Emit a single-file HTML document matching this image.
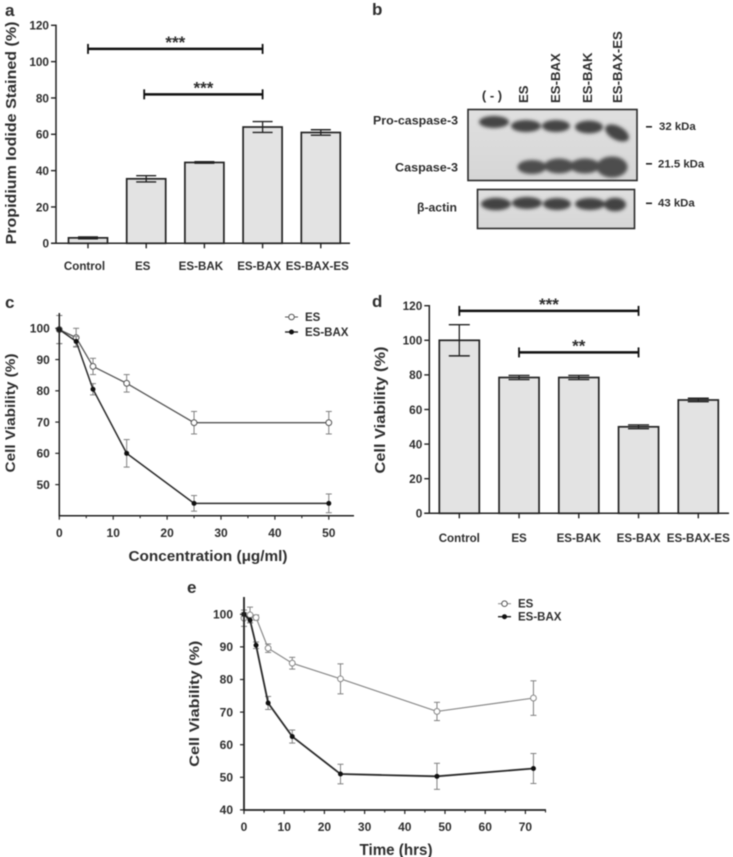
<!DOCTYPE html>
<html lang="en">
<head>
<meta charset="utf-8">
<title>Cell viability figure</title>
<style>
html,body{margin:0;padding:0;background:#fff;width:733px;height:857px;overflow:hidden}
svg{display:block}
text{font-family:"Liberation Sans",Arial,sans-serif;font-weight:bold;fill:#2e2e2e}
#figure{filter:blur(0.45px)}
</style>
</head>
<body>
<svg id="root" width="733" height="857" viewBox="0 0 733 857" xmlns="http://www.w3.org/2000/svg">
<defs>
<filter id="bandBlur" x="-30%" y="-50%" width="160%" height="200%"><feGaussianBlur stdDeviation="1.9"/></filter>
<linearGradient id="blotBg" x1="0" y1="0" x2="0" y2="1"><stop offset="0" stop-color="#e0e0e0"/><stop offset="1" stop-color="#d6d6d6"/></linearGradient>
</defs>
<g id="figure">
<g>
<text x="372" y="15" font-size="17">b</text>
<text x="492" y="100" font-size="13" text-anchor="middle">( - )</text>
<text transform="translate(528,103) rotate(-90)" font-size="13.2">ES</text>
<text transform="translate(560,103) rotate(-90)" font-size="13.2">ES-BAX</text>
<text transform="translate(592,103) rotate(-90)" font-size="13.2">ES-BAK</text>
<text transform="translate(622,103) rotate(-90)" font-size="13.2">ES-BAX-ES</text>
<rect x="468" y="109.5" width="169" height="71" fill="url(#blotBg)" stroke="#2a2a2a" stroke-width="1.6"/>
<rect x="477.5" y="189.5" width="157" height="39" fill="url(#blotBg)" stroke="#2a2a2a" stroke-width="1.6"/>
<g fill="#444" filter="url(#bandBlur)">
<ellipse cx="494" cy="122" rx="15" ry="6"/>
<ellipse cx="526" cy="126" rx="15" ry="6"/>
<ellipse cx="556" cy="126" rx="14" ry="6"/>
<ellipse cx="589" cy="127" rx="14" ry="6.4"/>
<ellipse cx="617" cy="133" rx="13" ry="6.8" transform="rotate(28 617 133)"/>
</g>
<g fill="#4d4d4d" filter="url(#bandBlur)">
<ellipse cx="532" cy="167" rx="14.500" ry="7"/>
<ellipse cx="559" cy="166" rx="15" ry="7.5"/>
<ellipse cx="585" cy="166" rx="15" ry="7.5"/>
<ellipse cx="612" cy="167" rx="15.5" ry="10.5"/>
</g>
<g fill="#424242" filter="url(#bandBlur)">
<ellipse cx="496" cy="204" rx="15" ry="6.2"/>
<ellipse cx="527" cy="203" rx="15" ry="6"/>
<ellipse cx="557" cy="204" rx="14" ry="6"/>
<ellipse cx="590" cy="204" rx="15" ry="6"/>
<ellipse cx="615" cy="204.5" rx="11" ry="6.8"/>
</g>
<text x="373" y="124.5" font-size="12" textLength="85" lengthAdjust="spacingAndGlyphs">Pro-caspase-3</text>
<text x="395" y="171.5" font-size="12" textLength="63" lengthAdjust="spacingAndGlyphs">Caspase-3</text>
<text x="417" y="211.5" font-size="12" textLength="40" lengthAdjust="spacingAndGlyphs">β-actin</text>
<rect x="646" y="126" width="6" height="1.6" fill="#222"/>
<rect x="646" y="163" width="6" height="1.6" fill="#222"/>
<rect x="646" y="202.5" width="6" height="1.6" fill="#222"/>
<text x="659" y="130" font-size="11.4">32 kDa</text>
<text x="658" y="167.5" font-size="11.4">21.5 kDa</text>
<text x="658" y="206.5" font-size="11.4">43 kDa</text>
</g>
</g>
</svg>
<script>
// Panel a data
var aCategories = ['Control', 'ES', 'ES-BAK', 'ES-BAX', 'ES-BAX-ES'];
var aValues = [3, 35.5, 44.5, 64, 61];
var aErrors = [0.5, 1.7, 0.4, 3, 1.5];
var aTicks = [0, 20, 40, 60, 80, 100, 120];
var aBrackets = [[0, 3, 107, '***'], [1, 3, 82, '***']];

// Panel c data
var cConcentration = [0, 3.125, 6.25, 12.5, 25, 50];
var cEsValues = [99.6, 97, 87.8, 82.4, 69.8, 69.8];
var cEsErrors = [4.5, 3, 2.6, 2.8, 3.6, 3.6];
var cBaxValues = [99.6, 95.8, 80.5, 60, 44, 44];
var cBaxErrors = [4.5, 1.6, 1.8, 4.4, 2.5, 3];
var cXTicks = [0, 10, 20, 30, 40, 50];
var cXMinorTicks = [5, 15, 25, 35, 45];
var cYTicks = [50, 60, 70, 80, 90, 100];

// Panel d data
var dCategories = ['Control', 'ES', 'ES-BAK', 'ES-BAX', 'ES-BAX-ES'];
var dValues = [100, 78.5, 78.5, 50, 65.5];
var dErrors = [9, 1.2, 1.2, 1.1, 1];
var dTicks = [0, 20, 40, 60, 80, 100, 120];
var dBrackets = [[0, 3, 117, '***'], [1, 3, 93, '**']];

// Panel e data
var eTime = [0, 1.5, 3, 6, 12, 24, 48, 72];
var eEsValues = [98.8, 99.8, 99, 89.6, 85, 80.2, 70.2, 74.3];
var eEsErrors = [2.5, 2.4, 0.8, 1.3, 1.8, 4.6, 2.8, 5.3];
var eBaxValues = [100, 98.2, 90.5, 72.8, 62.5, 51, 50.3, 52.7];
var eBaxErrors = [0.5, 0.8, 1, 2, 2, 3, 4, 4.6];
var eXTicks = [0, 10, 20, 30, 40, 50, 60, 70];
var eXMinorTicks = [5, 15, 25, 35, 45, 55, 65, 75];
var eYTicks = [40, 50, 60, 70, 80, 90, 100];

var NS = 'http://www.w3.org/2000/svg';
var fig = document.getElementById('figure');

function mk(parent, tag, attrs, name) {
  var el = document.createElementNS(NS, tag);
  for (var k in attrs) { el.setAttribute(k, attrs[k]); }
  
  
  parent.appendChild(el);
  return el;
}
function line(p, x1, y1, x2, y2, color, w, name) {
  return mk(p, 'line', {x1: x1, y1: y1, x2: x2, y2: y2, stroke: color, 'stroke-width': w}, name);
}
function label(p, x, y, str, size, anchor, name, rot, len) {
  var a = {'font-size': size, 'text-anchor': anchor || 'start'};
  if (rot) { a.transform = 'translate(' + x + ',' + y + ') rotate(-90)'; }
  else { a.x = x; a.y = y; }
  if (len) { a.textLength = len; a.lengthAdjust = 'spacingAndGlyphs'; }
  var t = mk(p, 'text', a, name);
  t.textContent = str;
  return t;
}

function barChart(o) {
  var g = mk(fig, 'g', {}, o.name);
  var sy = function (v) { return o.y0 - v * (o.y0 - o.yMaxPx) / o.yMax; };
  var sx = function (i) { return o.xFirst + i * o.xStep; };
  o.values.forEach(function (v, i) {
    mk(g, 'rect', {x: sx(i) - o.barW / 2, y: sy(v), width: o.barW, height: o.y0 - sy(v), fill: '#e3e3e3', stroke: '#222', 'stroke-width': 1.7}, 'bar-' + o.cats[i].toLowerCase());
    var e = o.errors[i];
    line(g, sx(i), sy(v + e), sx(i), sy(v - e), '#222', 1.3, 'error-stem-' + o.cats[i].toLowerCase());
    line(g, sx(i) - o.capW / 2, sy(v + e), sx(i) + o.capW / 2, sy(v + e), '#222', 1.4, 'error-cap-top-' + o.cats[i].toLowerCase());
    line(g, sx(i) - o.capW / 2, sy(v - e), sx(i) + o.capW / 2, sy(v - e), '#222', 1.4, 'error-cap-bottom-' + o.cats[i].toLowerCase());
    line(g, sx(i), o.y0, sx(i), o.y0 + 5, '#222', 1.4, 'x-tick');
    label(g, sx(i) + o.catShift, o.catY, o.cats[i], 11.6, 'middle', 'x-label-' + o.cats[i].toLowerCase());
  });
  line(g, o.axisX, o.yMaxPx - 0.7, o.axisX, o.y0 + 0.7, '#222', 1.5, 'y-axis');
  line(g, o.axisX - 5, o.y0, o.axisEnd, o.y0, '#222', 1.5, 'x-axis');
  o.ticks.forEach(function (t) {
    line(g, o.axisX - 5, sy(t), o.axisX, sy(t), '#222', 1.4, 'y-tick');
    label(g, o.axisX - 7, sy(t) + 4.3, String(t), 11.8, 'end', 'y-label-' + t);
  });
  o.brackets.forEach(function (b) {
    var x1 = sx(b[0]) - (b[0] === 1 ? o.bracketInset : 0), x2 = sx(b[1]), y = sy(b[2]);
    line(g, x1, y, x2, y, '#111', 2.5, 'significance-bar');
    line(g, x1, y - 5, x1, y + 5, '#111', 1.8, 'significance-cap-left');
    line(g, x2, y - 5, x2, y + 5, '#111', 1.8, 'significance-cap-right');
    label(g, (x1 + x2) / 2, y - 1, b[3], 17, 'middle', 'significance-stars');
  });
  label(g, o.titleX, o.titleY, o.title, o.titleSize, 'middle', 'y-axis-title', true, o.titleLen);
  label(g, o.letterX, o.letterY, o.letter, 17, 'start', 'panel-label-' + o.letter);
}

function lineChart(o) {
  var g = mk(fig, 'g', {}, o.name);
  var sx = function (v) { return o.x0 + v * o.xScale; };
  var sy = function (v) { return o.yRef - (v - o.vRef) * o.yScale; };
  function series(vals, errs, filled, color, w, errColor, key) {
    var s = mk(g, 'g', {}, 'series-' + key);
    vals.forEach(function (v, i) {
      var x = sx(o.xs[i]);
      line(s, x, sy(v + errs[i]), x, sy(v - errs[i]), errColor, 1, 'error-stem');
      line(s, x - 3, sy(v + errs[i]), x + 3, sy(v + errs[i]), errColor, 1, 'error-cap');
      line(s, x - 3, sy(v - errs[i]), x + 3, sy(v - errs[i]), errColor, 1, 'error-cap');
    });
    var pts = vals.map(function (v, i) { return sx(o.xs[i]) + ',' + sy(v); }).join(' ');
    mk(s, 'polyline', {points: pts, fill: 'none', stroke: color, 'stroke-width': w}, 'line-' + key);
    vals.forEach(function (v, i) {
      if (filled) {
        mk(s, 'circle', {cx: sx(o.xs[i]), cy: sy(v), r: 2.5, fill: '#111'}, 'point-' + key);
      } else {
        mk(s, 'circle', {cx: sx(o.xs[i]), cy: sy(v), r: 2.9, fill: '#fff', stroke: color, 'stroke-width': 1}, 'point-' + key);
      }
    });
  }
  series(o.es, o.esErr, false, o.esColor, o.esW, '#808080', 'es');
  series(o.bax, o.baxErr, true, '#2a2a2a', o.baxW, '#808080', 'es-bax');
  line(g, o.x0, o.axisTop, o.x0, o.axisY + 0.7, '#222', o.axisW, 'y-axis');
  line(g, o.x0 - 0.7, o.axisY, o.axisEnd, o.axisY, '#222', o.axisW, 'x-axis');
  o.yTicks.forEach(function (t) {
    line(g, o.x0 - 4, sy(t), o.x0, sy(t), '#222', 1.2, 'y-tick');
    label(g, o.x0 - o.yLabelGap, sy(t) + 4.2, String(t), 12, 'end', 'y-label-' + t);
  });
  o.xTicks.forEach(function (t) {
    line(g, sx(t), o.axisY, sx(t), o.axisY + 4, '#222', 1.2, 'x-tick');
    label(g, sx(t), o.xLabelY, String(t), 12, 'middle', 'x-label-' + t);
  });
  o.xMinor.forEach(function (t) {
    line(g, sx(t), o.axisY, sx(t), o.axisY + 2.5, '#222', 1.1, 'x-minor-tick');
  });
  line(g, o.legX, o.legY1, o.legX + 13, o.legY1, o.esColor, 1, 'legend-line-es');
  mk(g, 'circle', {cx: o.legX + 6.5, cy: o.legY1, r: 2.8, fill: '#fff', stroke: '#555', 'stroke-width': 1}, 'legend-marker-es');
  label(g, o.legX + 20, o.legY1 + 4, 'ES', 11.5, 'start', 'legend-entry-es');
  line(g, o.legX, o.legY2, o.legX + 13, o.legY2, '#222', 1.4, 'legend-line-es-bax');
  mk(g, 'circle', {cx: o.legX + 6.5, cy: o.legY2, r: 2.5, fill: '#111'}, 'legend-marker-es-bax');
  label(g, o.legX + 20, o.legY2 + 4, 'ES-BAX', 11.5, 'start', 'legend-entry-es-bax');
  label(g, o.xTitleX, o.xTitleY, o.xTitle, o.xTitleSize, 'middle', 'x-axis-title', false, o.xTitleLen);
  label(g, o.yTitleX, o.yTitleY, 'Cell Viability (%)', 14, 'middle', 'y-axis-title', true, o.yTitleLen);
  label(g, o.letterX, o.letterY, o.letter, 17, 'start', 'panel-label-' + o.letter);
}

barChart({name: 'panel-a-bar-chart', letter: 'a', letterX: 5, letterY: 16,
  cats: aCategories, values: aValues, errors: aErrors, ticks: aTicks, brackets: aBrackets,
  axisX: 56, axisEnd: 350, y0: 243.3, yMaxPx: 25.3, yMax: 120, xFirst: 88, xStep: 58.2,
  barW: 39, capW: 20, catY: 270, catShift: -3.5, bracketInset: 2,
  title: 'Propidium Iodide Stained (%)', titleX: 16, titleY: 133, titleSize: 14.5, titleLen: 223});

barChart({name: 'panel-d-bar-chart', letter: 'd', letterX: 372, letterY: 307,
  cats: dCategories, values: dValues, errors: dErrors, ticks: dTicks, brackets: dBrackets,
  axisX: 429.3, axisEnd: 729, y0: 513.3, yMaxPx: 305.7, yMax: 120, xFirst: 459.3, xStep: 59.75,
  barW: 40, capW: 21, catY: 542, catShift: 0, bracketInset: 0,
  title: 'Cell Viability (%)', titleX: 385, titleY: 410, titleSize: 14.5, titleLen: 127});

lineChart({name: 'panel-c-line-chart', letter: 'c', letterX: 5, letterY: 308,
  xs: cConcentration, es: cEsValues, esErr: cEsErrors, bax: cBaxValues, baxErr: cBaxErrors,
  xTicks: cXTicks, xMinor: cXMinorTicks, yTicks: cYTicks,
  x0: 59.3, xScale: 5.39, yRef: 328.3, vRef: 100, yScale: 3.126,
  axisTop: 313, axisY: 515.7, axisEnd: 354, axisW: 1.5, xLabelY: 537, yLabelGap: 9.5,
  esColor: '#555', esW: 1.3, baxW: 1.5,
  legX: 285, legY1: 317, legY2: 332,
  xTitle: 'Concentration (μg/ml)', xTitleX: 208, xTitleY: 561, xTitleSize: 14.5, xTitleLen: 159,
  yTitleX: 15, yTitleY: 413, yTitleLen: 119});

lineChart({name: 'panel-e-line-chart', letter: 'e', letterX: 187, letterY: 593,
  xs: eTime, es: eEsValues, esErr: eEsErrors, bax: eBaxValues, baxErr: eBaxErrors,
  xTicks: eXTicks, xMinor: eXMinorTicks, yTicks: eYTicks,
  x0: 244, xScale: 4.02, yRef: 614.3, vRef: 100, yScale: 3.26,
  axisTop: 597, axisY: 810, axisEnd: 546, axisW: 1.8, xLabelY: 831, yLabelGap: 11,
  esColor: '#888', esW: 1.2, baxW: 1.8,
  legX: 498, legY1: 603.7, legY2: 616.7,
  xTitle: 'Time (hrs)', xTitleX: 396, xTitleY: 855, xTitleSize: 15.5, xTitleLen: 73,
  yTitleX: 199, yTitleY: 703.7, yTitleLen: 126});
</script>
</body>
</html>
